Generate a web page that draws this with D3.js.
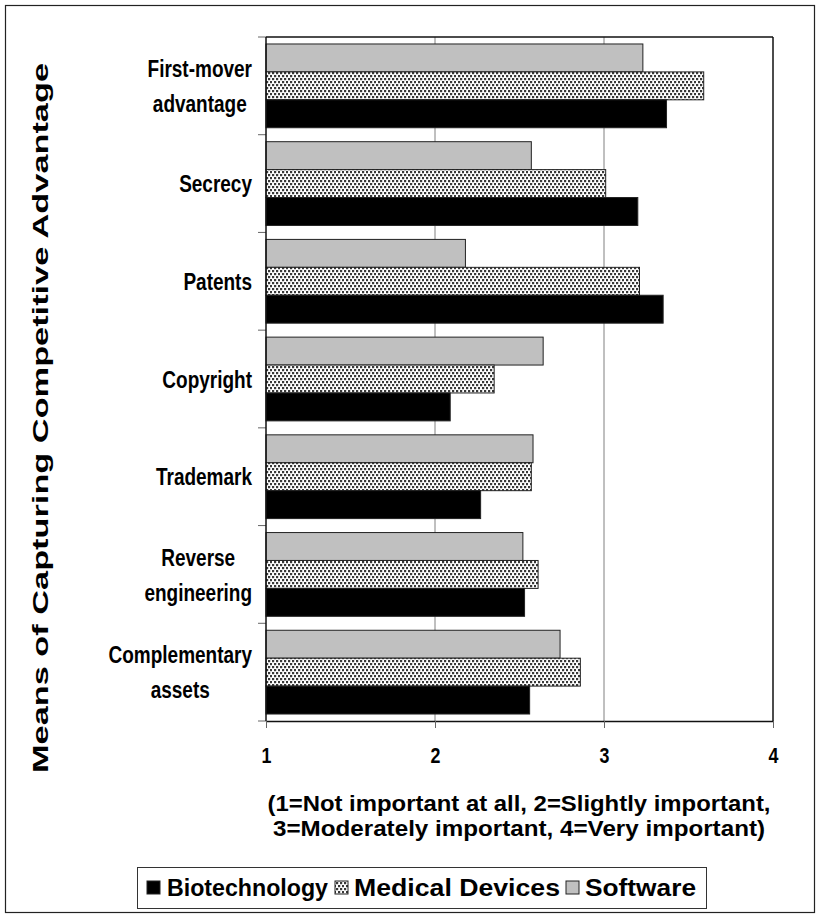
<!DOCTYPE html>
<html><head><meta charset="utf-8">
<script src="https://cdn.jsdelivr.net/npm/d3@7"></script>
<style>body{margin:0;background:#fff}svg{display:block}text{font-family:"Liberation Sans",Arial,sans-serif;font-weight:bold;fill:#000}</style>
</head><body>
<svg id="c" width="820" height="918"></svg>
<script>
const categories = ["First-mover\nadvantage", "Secrecy", "Patents", "Copyright", "Trademark", "Reverse\nengineering", "Complementary\nassets"];
const seriesNames = ["Software", "Medical Devices", "Biotechnology"];
const software = [3.23, 2.57, 2.18, 2.64, 2.58, 2.52, 2.74];
const medical = [3.59, 3.01, 3.21, 2.35, 2.57, 2.61, 2.86];
const biotech = [3.37, 3.20, 3.35, 2.09, 2.27, 2.53, 2.56];
const xTicks = [1, 2, 3, 4];
const legendNames = ["Biotechnology", "Medical Devices", "Software"];
const yTitle = "Means of Capturing Competitive Advantage";
const xTitle = ["(1=Not important at all, 2=Slightly important,", "3=Moderately important, 4=Very important)"];

const svg = d3.select("#c");
const defs = svg.append("defs");
const pat = defs.append("pattern").attr("id","dots").attr("patternUnits","userSpaceOnUse").attr("width",8).attr("height",6);
pat.append("rect").attr("width",8).attr("height",6).attr("fill","#fff");
[[0,0],[4,0],[2,3],[6,3]].forEach(p=>pat.append("rect").attr("x",p[0]).attr("y",p[1]).attr("width",2.2).attr("height",2.2).attr("fill","#383838"));

const fills = {"Software":"#c0c0c0","Medical Devices":"url(#dots)","Biotechnology":"#000"};
const values = {"Software":software,"Medical Devices":medical,"Biotechnology":biotech};

// outer border
svg.append("rect").attr("x",5.5).attr("y",5.5).attr("width",809).attr("height",907).attr("fill","none").attr("stroke","#222").attr("stroke-width",1.2);

const L=266, R=773, T=37, B=721;
const x = d3.scaleLinear().domain([1,4]).range([L,R]);
const y = d3.scaleBand().domain(categories.map((d,i)=>i)).range([T,B]).paddingInner(0).paddingOuter(0);
const inner = d3.scaleBand().domain(seriesNames).range([0,y.bandwidth()]).paddingInner(0).paddingOuter(0.25);

// gridlines
svg.append("g").selectAll("line").data(xTicks.slice(1,3)).join("line")
  .attr("x1",d=>x(d)).attr("x2",d=>x(d)).attr("y1",T).attr("y2",B)
  .attr("stroke","#808080").attr("stroke-width",1);

// bars
seriesNames.forEach(s=>{
  svg.append("g").selectAll("rect").data(values[s]).join("rect")
    .attr("x",x(1)).attr("y",(d,i)=>y(i)+inner(s))
    .attr("width",d=>x(d)-x(1)).attr("height",inner.bandwidth())
    .attr("fill",fills[s]).attr("stroke","#222").attr("stroke-width",1);
});

// plot border top/right
svg.append("line").attr("x1",L).attr("x2",R).attr("y1",T).attr("y2",T).attr("stroke","#111").attr("stroke-width",1.5);
svg.append("line").attr("x1",R).attr("x2",R).attr("y1",T).attr("y2",B).attr("stroke","#111").attr("stroke-width",1.5);

// x axis
const xa = svg.append("g").attr("transform",`translate(0,${B})`)
  .call(d3.axisBottom(x).tickValues(xTicks).tickFormat(d3.format("d")).tickSize(7).tickSizeOuter(0));
xa.select(".domain").attr("stroke","#111").attr("stroke-width",1.5);
xa.selectAll(".tick line").attr("stroke","#666");
xa.selectAll(".tick text").attr("dy",0).attr("y",0)
  .attr("transform","translate(0,42) scale(1.05,1.3)")
  .style("font-size","17px").style("font-family","'Liberation Sans',Arial,sans-serif").style("font-weight","bold");

// y axis ticks at boundaries
const bounds = d3.range(categories.length+1).map(i=> i<categories.length ? y(i) : B);
svg.append("g").selectAll("line").data(bounds).join("line")
  .attr("x1",L-8).attr("x2",L).attr("y1",d=>d).attr("y2",d=>d).attr("stroke","#666").attr("stroke-width",1);
svg.append("line").attr("x1",L).attr("x2",L).attr("y1",T).attr("y2",B).attr("stroke","#111").attr("stroke-width",1.5);

// category labels
const labelRight = 252;
const SY = 1.3;
const lab = svg.append("g").style("font-size","19px");
categories.forEach((c,i)=>{
  const lines = c.split("\n");
  const cy = y(i)+y.bandwidth()/2;
  const lh = 35;
  const gs = lines.map((t,k)=>{
    const g = lab.append("g").attr("transform",`translate(0,${cy + (k-(lines.length-1)/2)*lh}) scale(1,${SY})`);
    return g.append("text").attr("text-anchor","middle").attr("dy","0.35em").text(t);
  });
  const maxW = d3.max(gs, t=>t.node().getComputedTextLength());
  gs.forEach(t=>t.attr("x", labelRight - maxW/2));
});

// y title
svg.append("text").attr("transform","translate(48,418) rotate(-90)").attr("text-anchor","middle")
  .attr("textLength",710).attr("lengthAdjust","spacingAndGlyphs")
  .style("font-size","22px").text(yTitle);

// x title
svg.selectAll(".xt").data(xTitle).join("text").attr("class","xt")
  .attr("transform",(d,i)=>`translate(519,${811+i*25}) scale(1,1.15)`).attr("text-anchor","middle")
  .attr("textLength",(d,i)=>[503,492][i]).attr("lengthAdjust","spacingAndGlyphs")
  .style("font-size","19px").text(d=>d);

// legend
const lg = svg.append("g");
lg.append("rect").attr("x",137.5).attr("y",867.5).attr("width",569).attr("height",41).attr("fill","#fff").attr("stroke","#333").attr("stroke-width",1);
const legendPos = [{sx:147, tx:167, w:161},{sx:335, tx:354, w:206},{sx:566, tx:585, w:111}];
legendNames.forEach((n,i)=>{
  lg.append("rect").attr("x",legendPos[i].sx).attr("y",881).attr("width",13).attr("height",13)
    .attr("fill",fills[n]).attr("stroke","#222").attr("stroke-width",1);
  lg.append("text").attr("transform",`translate(${legendPos[i].tx},896) scale(1,1.15)`)
    .attr("textLength",legendPos[i].w).attr("lengthAdjust","spacingAndGlyphs")
    .style("font-size","21px").text(n);
});
</script>
</body></html>
